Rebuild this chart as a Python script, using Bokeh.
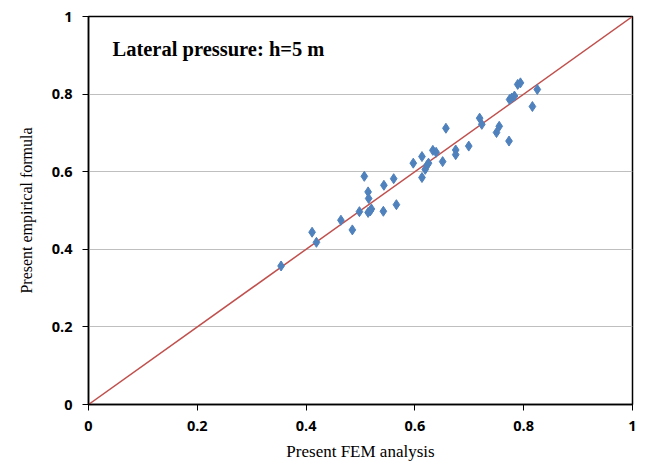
from bokeh.plotting import figure
from bokeh.models import Range1d, Label, FixedTicker
from bokeh.embed import file_html
from bokeh.resources import INLINE

fem_x = [0.354, 0.411, 0.419, 0.464, 0.485, 0.498, 0.507, 0.514, 0.515, 0.514,
         0.520, 0.518, 0.543, 0.542, 0.561, 0.566, 0.597, 0.613, 0.613, 0.619,
         0.622, 0.625, 0.633, 0.639, 0.651, 0.657, 0.675, 0.675, 0.699, 0.719,
         0.723, 0.750, 0.755, 0.773, 0.774, 0.778, 0.783, 0.789, 0.794, 0.816,
         0.825]
emp_y = [0.357, 0.444, 0.418, 0.475, 0.450, 0.497, 0.588, 0.548, 0.531, 0.495,
         0.504, 0.499, 0.565, 0.498, 0.582, 0.515, 0.622, 0.639, 0.585, 0.606,
         0.616, 0.622, 0.655, 0.650, 0.626, 0.712, 0.656, 0.644, 0.666, 0.738,
         0.722, 0.701, 0.717, 0.679, 0.786, 0.790, 0.795, 0.825, 0.829, 0.768,
         0.812]
line_x = [0, 1]
line_y = [0, 1]
ticks = [0, 0.2, 0.4, 0.6, 0.8, 1]
tick_labels = {0: "0", 0.2: "0.2", 0.4: "0.4", 0.6: "0.6", 0.8: "0.8", 1: "1"}

p = figure(width=653, height=467, output_backend="svg", toolbar_location=None,
           x_range=Range1d(0, 1), y_range=Range1d(0, 1),
           min_border_left=88, min_border_right=21, min_border_top=16, min_border_bottom=63)
p.background_fill_color = "white"
p.border_fill_color = "white"
p.outline_line_color = "black"
p.outline_line_width = 1.5

p.line(line_x, line_y, line_color="#C0504D", line_width=1.5)
p.scatter(fem_x, emp_y, marker="diamond", size=10, fill_color="#4F81BD", line_color="#4F81BD")

for ax in (p.xaxis[0], p.yaxis[0]):
    ax.ticker = FixedTicker(ticks=ticks)
    ax.major_label_overrides = tick_labels
    ax.major_label_text_font = "Open Sans"
    ax.major_label_text_font_style = "bold"
    ax.major_label_text_font_size = "14.5px"
    ax.major_label_text_color = "black"
    ax.axis_line_color = "black"
    ax.axis_line_width = 1.5
    ax.major_tick_line_color = "black"
    ax.major_tick_in = 0
    ax.major_tick_out = 6
    ax.minor_tick_line_color = None
    ax.axis_label_text_font = "Liberation Serif"
    ax.axis_label_text_font_style = "normal"
    ax.axis_label_text_color = "black"

p.xaxis.axis_label = "Present FEM analysis"
p.xaxis.axis_label_text_font_size = "17px"
p.xaxis.major_label_standoff = 10
p.xaxis.axis_label_standoff = 8
p.yaxis.axis_label = "Present empirical formula"
p.yaxis.axis_label_text_font_size = "16px"
p.yaxis.major_label_standoff = 10
p.yaxis.axis_label_standoff = 14
p.yaxis.major_label_orientation = "horizontal"

p.xgrid.grid_line_color = None
p.ygrid.ticker = FixedTicker(ticks=[0.2, 0.4, 0.6, 0.8])
p.ygrid.grid_line_color = "#BFBFBF"
p.ygrid.grid_line_width = 1

p.add_layout(Label(x=24, y=356, x_units="screen", y_units="screen",
                   text="Lateral pressure: h=5 m", text_font="Liberation Serif",
                   text_font_style="bold", text_font_size="20.5px",
                   text_baseline="middle", text_color="black"))

open("out.html", "w").write(file_html(p, INLINE))
